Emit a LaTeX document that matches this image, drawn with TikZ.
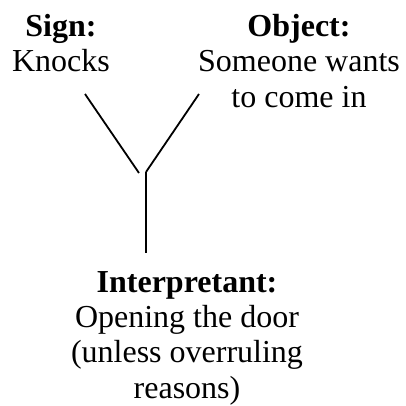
\documentclass[tikz,border=0pt]{standalone}
\usepackage{fontspec}
\setmainfont{Liberation Serif}
\begin{document}
\begin{tikzpicture}[x=1pt,y=-1pt,
  label/.style={align=center,inner sep=0pt,anchor=north,
    font={\fontsize{32}{35.3}\selectfont}},
  stroke/.style={line width=1.8pt}]
\useasboundingbox (0,0) rectangle (405,406);
% the three corners of the sign relation
\node[label] (sign) at (61,14) {\textbf{Sign:}\\Knocks};
\node[label] (object) at (299,14) {\textbf{Object:}\\Someone wants\\to come in};
\node[label] (interp) at (187,271) {\textbf{Interpretant:}\\Opening the door\\(unless overruling\\reasons)};
% the Y-shaped connector
\coordinate (sl) at (85,94);
\coordinate (jl) at (139,173);
\coordinate (sr) at (199,94);
\coordinate (jr) at (146,172);
\coordinate (bot) at (146,253);
\draw[stroke] (sl) -- (jl);
\draw[stroke] (sr) -- (jr);
\draw[stroke] (jr) -- (bot);
\end{tikzpicture}
\end{document}
